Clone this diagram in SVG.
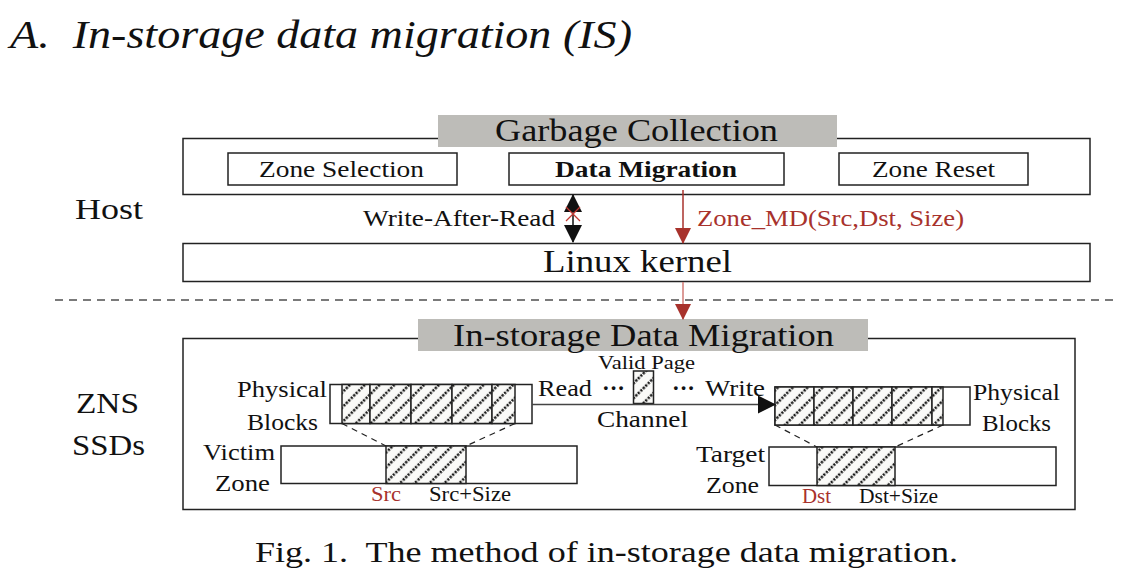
<svg xmlns="http://www.w3.org/2000/svg" width="1128" height="582" viewBox="0 0 1128 582">
<style>
text{font-family:"Liberation Serif","Times New Roman",serif;fill:#111}
.box{fill:#fff;stroke:#222;stroke-width:1.5}
.grey{fill:#bdbcb8}
.lbl{font-size:24px}
.sm{font-size:20px}
.big{font-size:31px}
.side{font-size:30px}
.red{fill:#a8322c}
.hatch{fill:url(#hatch);stroke:#222;stroke-width:1.5}
.dash{stroke:#222;stroke-width:1.2;stroke-dasharray:6 5;fill:none}
</style>
<defs>
<pattern id="hatch" patternUnits="userSpaceOnUse" width="10.5" height="10.5" patternTransform="rotate(45)">
<rect width="10.5" height="10.5" fill="#fafaf8"/>
<line x1="5" y1="0" x2="5" y2="10.5" stroke="#1a1a1a" stroke-width="2.6" stroke-dasharray="2.2 1.3"/>
</pattern>
<marker id="ar" markerWidth="16" markerHeight="16" refX="15" refY="8" orient="auto" markerUnits="userSpaceOnUse" viewBox="0 0 16 16">
<path d="M0,0 L16,8 L0,16 z" fill="#a8322c"/>
</marker>
<marker id="abig" markerWidth="18" markerHeight="20" refX="17" refY="10" orient="auto-start-reverse" markerUnits="userSpaceOnUse" viewBox="0 0 18 20">
<path d="M0,1 L18,10 L0,19 z" fill="#111"/>
</marker>
</defs>

<text x="10" y="48" font-size="40" font-style="italic" textLength="622" lengthAdjust="spacingAndGlyphs" xml:space="preserve">A.  In-storage data migration (IS)</text>

<g id="labels">
<text x="75" y="219" class="side" textLength="68" lengthAdjust="spacingAndGlyphs">Host</text>
<text x="76" y="413" class="side" textLength="63" lengthAdjust="spacingAndGlyphs">ZNS</text>
<text x="72" y="455" class="side" textLength="73" lengthAdjust="spacingAndGlyphs">SSDs</text>
</g>

<line x1="55" y1="300" x2="1115" y2="300" stroke="#7a7a7a" stroke-width="2" stroke-dasharray="8 6"/>

<g id="gc">
<rect class="box" x="183" y="138.5" width="907" height="56"/>
<rect class="grey" x="438" y="115" width="399" height="32"/>
<text x="495" y="141" class="big" textLength="283" lengthAdjust="spacingAndGlyphs">Garbage Collection</text>
</g>
<g id="zone-selection">
<rect class="box" x="228" y="153" width="229" height="32"/>
<text x="259" y="177" class="lbl" textLength="165" lengthAdjust="spacingAndGlyphs">Zone Selection</text>
</g>
<g id="data-migration">
<rect class="box" x="509" y="153" width="275" height="32"/>
<text x="555" y="177" class="lbl" font-weight="bold" textLength="182" lengthAdjust="spacingAndGlyphs">Data Migration</text>
</g>
<g id="zone-reset">
<rect class="box" x="839" y="153" width="189" height="32"/>
<text x="872" y="177" class="lbl" textLength="123" lengthAdjust="spacingAndGlyphs">Zone Reset</text>
</g>

<g id="kernel">
<rect class="box" x="183" y="243.5" width="907" height="38"/>
<text x="543" y="272" class="big" textLength="189" lengthAdjust="spacingAndGlyphs">Linux kernel</text>
</g>

<g id="isdm">
<rect class="box" x="183" y="338.5" width="892" height="171"/>
<rect class="grey" x="418" y="319" width="450" height="32"/>
<text x="453" y="346" class="big" textLength="381" lengthAdjust="spacingAndGlyphs">In-storage Data Migration</text>
</g>

<g id="phys-left">
<rect class="box" x="330" y="384.5" width="202" height="39"/>
<rect class="hatch" x="342" y="384.5" width="28" height="39"/>
<rect class="hatch" x="370" y="384.5" width="41" height="39"/>
<rect class="hatch" x="411" y="384.5" width="41" height="39"/>
<rect class="hatch" x="452" y="384.5" width="40" height="39"/>
<rect class="hatch" x="492" y="384.5" width="23" height="39"/>
<text x="237" y="397" class="lbl" textLength="90" lengthAdjust="spacingAndGlyphs">Physical</text>
<text x="247" y="430" class="lbl" textLength="71" lengthAdjust="spacingAndGlyphs">Blocks</text>
</g>

<g id="victim-zone">
<rect class="box" x="281" y="446" width="296" height="37.5"/>
<rect class="hatch" x="386" y="446" width="80" height="37.5"/>
<text x="203" y="460" class="lbl" textLength="72" lengthAdjust="spacingAndGlyphs">Victim</text>
<text x="215" y="491" class="lbl" textLength="55" lengthAdjust="spacingAndGlyphs">Zone</text>
<text x="371" y="501" class="sm red" textLength="30" lengthAdjust="spacingAndGlyphs">Src</text>
<text x="429" y="501" class="sm" textLength="82" lengthAdjust="spacingAndGlyphs">Src+Size</text>
</g>

<g id="valid-page">
<rect class="hatch" x="633.5" y="371" width="20" height="32.5"/>
<text x="598" y="369" font-size="18.5" textLength="97" lengthAdjust="spacingAndGlyphs">Valid Page</text>
</g>

<g id="phys-right">
<rect class="box" x="775" y="387" width="195" height="38"/>
<rect class="hatch" x="775" y="387" width="39" height="38"/>
<rect class="hatch" x="814" y="387" width="39" height="38"/>
<rect class="hatch" x="853" y="387" width="39" height="38"/>
<rect class="hatch" x="892" y="387" width="40" height="38"/>
<rect class="hatch" x="932" y="387" width="11" height="38"/>
<text x="973" y="400" class="lbl" textLength="87" lengthAdjust="spacingAndGlyphs">Physical</text>
<text x="982" y="431" class="lbl" textLength="69" lengthAdjust="spacingAndGlyphs">Blocks</text>
</g>

<g id="target-zone">
<rect class="box" x="769" y="447" width="287" height="38.5"/>
<rect class="hatch" x="817" y="447" width="78" height="38.5"/>
<text x="696" y="462" class="lbl" textLength="69" lengthAdjust="spacingAndGlyphs">Target</text>
<text x="706" y="493" class="lbl" textLength="53" lengthAdjust="spacingAndGlyphs">Zone</text>
<text x="802" y="503" class="sm red" textLength="29" lengthAdjust="spacingAndGlyphs">Dst</text>
<text x="859" y="503" class="sm" textLength="79" lengthAdjust="spacingAndGlyphs">Dst+Size</text>
</g>

<g id="connectors">
<line x1="573" y1="195" x2="573" y2="242" stroke="#111" stroke-width="1.5" marker-start="url(#abig)" marker-end="url(#abig)"/>
<path d="M566,207 L580,221 M580,207 L566,221" stroke="#c23a33" stroke-width="1.3" fill="none"/>
<text x="363" y="226" class="lbl" textLength="192" lengthAdjust="spacingAndGlyphs">Write-After-Read</text>

<line x1="683" y1="190" x2="683" y2="243" stroke="#a8322c" stroke-width="1.5" marker-end="url(#ar)"/>
<text x="697" y="226" class="lbl red" textLength="267" lengthAdjust="spacingAndGlyphs">Zone_MD(Src,Dst, Size)</text>

<line x1="683" y1="282" x2="683" y2="319" stroke="#d07a75" stroke-width="1.5" marker-end="url(#ar)"/>

<path d="M342,423.5 L386,446 M515,423.5 L466,446" class="dash"/>
<path d="M775,425 L817,447 M943,425 L895,447" class="dash"/>

<line x1="532" y1="404.5" x2="775" y2="404.5" stroke="#444" stroke-width="1.5" marker-end="url(#abig)"/>
<text x="538" y="396" class="lbl" textLength="54" lengthAdjust="spacingAndGlyphs">Read</text>
<text x="602" y="396" class="lbl" font-weight="bold" textLength="23" lengthAdjust="spacingAndGlyphs">···</text>
<text x="672" y="396" class="lbl" font-weight="bold" textLength="23" lengthAdjust="spacingAndGlyphs">···</text>
<text x="705" y="396" class="lbl" textLength="60" lengthAdjust="spacingAndGlyphs">Write</text>
<text x="597" y="427" class="lbl" textLength="91" lengthAdjust="spacingAndGlyphs">Channel</text>
</g>

<text x="255" y="562" font-size="30" textLength="703" lengthAdjust="spacingAndGlyphs" xml:space="preserve">Fig. 1.  The method of in-storage data migration.</text>
</svg>
